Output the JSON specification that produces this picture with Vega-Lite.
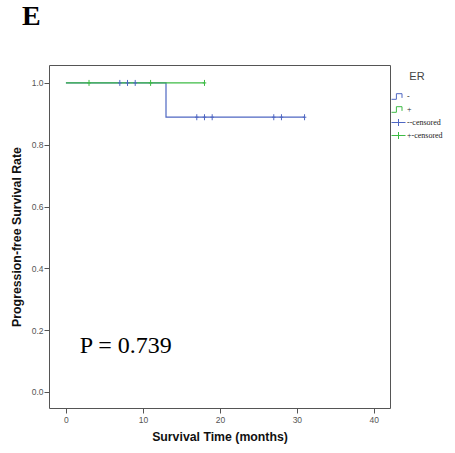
{
  "$schema": "https://vega.github.io/schema/vega-lite/v6.json",
  "autosize": "none",
  "width": 341,
  "height": 343,
  "padding": {"left": 49, "top": 65, "right": 65, "bottom": 45},
  "background": "white",
  "title": {
    "text": "E",
    "anchor": "start",
    "frame": "group",
    "dx": -27,
    "offset": 34,
    "font": "Liberation Serif",
    "fontSize": 28,
    "fontWeight": "bold",
    "color": "#000"
  },
  "datasets": {
    "curve": [
      {"group": "-", "time": 0, "rate": 1.0},
      {"group": "-", "time": 13, "rate": 0.889},
      {"group": "-", "time": 31, "rate": 0.889},
      {"group": "+", "time": 0, "rate": 1.0},
      {"group": "+", "time": 18, "rate": 1.0}
    ],
    "censor": [
      {"group": "--censored", "time": 7, "rate": 1.0},
      {"group": "--censored", "time": 8, "rate": 1.0},
      {"group": "--censored", "time": 9, "rate": 1.0},
      {"group": "--censored", "time": 17, "rate": 0.889},
      {"group": "--censored", "time": 18, "rate": 0.889},
      {"group": "--censored", "time": 19, "rate": 0.889},
      {"group": "--censored", "time": 27, "rate": 0.889},
      {"group": "--censored", "time": 28, "rate": 0.889},
      {"group": "--censored", "time": 31, "rate": 0.889},
      {"group": "+-censored", "time": 3, "rate": 1.0},
      {"group": "+-censored", "time": 11, "rate": 1.0},
      {"group": "+-censored", "time": 18, "rate": 1.0}
    ],
    "annot": [
      {"time": 1.8, "rate": 0.125, "label": "P = 0.739"}
    ]
  },
  "config": {
    "view": {"stroke": "#555", "strokeWidth": 1},
    "axis": {
      "grid": false,
      "domain": false,
      "tickColor": "#555",
      "tickSize": 5,
      "labelColor": "#555",
      "labelFont": "Liberation Sans",
      "labelFontSize": 8.5,
      "titleFont": "Liberation Sans",
      "titleFontSize": 12.3,
      "titleFontWeight": "bold",
      "titleColor": "#111"
    }
  },
  "layer": [
    {
      "data": {"name": "curve"},
      "mark": {"type": "line", "interpolate": "step-after", "strokeWidth": 1.2},
      "encoding": {
        "x": {
          "field": "time", "type": "quantitative",
          "scale": {"domain": [-2.2, 42.1], "nice": false, "zero": false},
          "axis": {"values": [0, 10, 20, 30, 40], "title": "Survival Time (months)", "labelPadding": 2, "titlePadding": 7}
        },
        "y": {
          "field": "rate", "type": "quantitative",
          "scale": {"domain": [-0.052, 1.058], "nice": false, "zero": false},
          "axis": {"values": [0, 0.2, 0.4, 0.6, 0.8, 1.0], "format": ".1f", "title": "Progression-free Survival Rate", "labelPadding": 1, "titlePadding": 8}
        },
        "color": {
          "field": "group", "type": "nominal",
          "scale": {
            "domain": ["-", "+", "--censored", "+-censored"],
            "range": ["#4f67c2", "#3dbb45", "#4f67c2", "#3dbb45"]
          },
          "legend": {
            "title": "ER",
            "orient": "none",
            "legendX": 342,
            "legendY": 6,
            "padding": 0,
            "titleAnchor": "middle",
            "titleFont": "Liberation Sans",
            "titleFontSize": 11,
            "titleFontWeight": "normal",
            "titleColor": "#444",
            "titlePadding": 7,
            "labelFont": "Liberation Serif",
            "labelFontSize": 8,
            "labelColor": "#222",
            "labelOffset": 1,
            "symbolSize": 196,
            "rowPadding": -2,
            "encode": {
              "symbols": {
                "update": {
                  "shape": {"signal": "datum.value == '-' || datum.value == '+' ? 'M-1,0.4L-0.3,0.4L-0.3,-0.4L0.5,-0.4L0.5,0.2' : 'M-1,0L1,0M0,-0.5L0,0.5'"},
                  "fill": {"value": "transparent"},
                  "stroke": {"signal": "datum.value == '-' || datum.value == '--censored' ? '#4f67c2' : '#3dbb45'"},
                  "strokeWidth": {"value": 1}
                }
              }
            }
          }
        }
      }
    },
    {
      "data": {"name": "censor"},
      "mark": {"type": "point", "shape": "M0,-1L0,1M-0.6,0L0.6,0", "size": 36, "filled": false, "strokeWidth": 1, "opacity": 1},
      "encoding": {
        "x": {"field": "time", "type": "quantitative"},
        "y": {"field": "rate", "type": "quantitative"},
        "color": {"field": "group", "type": "nominal"}
      }
    },
    {
      "data": {"name": "annot"},
      "mark": {"type": "text", "align": "left", "baseline": "alphabetic", "font": "Liberation Serif", "fontSize": 24, "color": "#000"},
      "encoding": {
        "x": {"field": "time", "type": "quantitative"},
        "y": {"field": "rate", "type": "quantitative"},
        "text": {"field": "label"}
      }
    }
  ]
}
